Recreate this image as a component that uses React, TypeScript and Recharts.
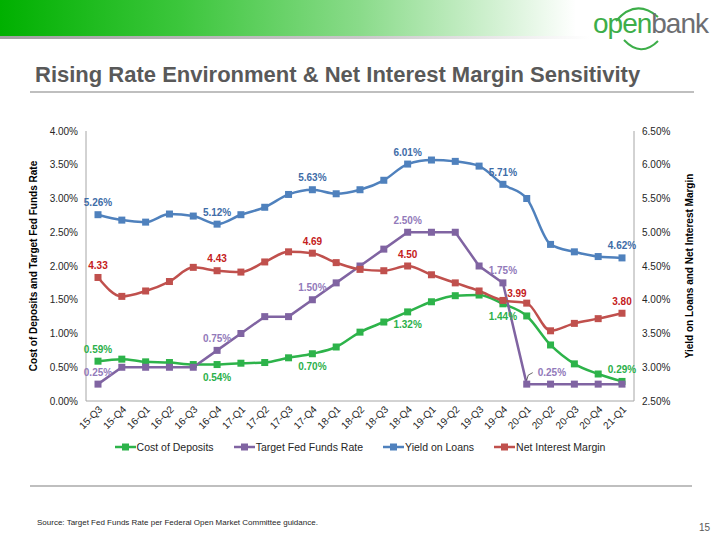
import React from 'react';
import { LineChart, Line, XAxis, YAxis, Legend, LabelList } from 'recharts';

const quarters = ['15-Q3','15-Q4','16-Q1','16-Q2','16-Q3','16-Q4','17-Q1','17-Q2','17-Q3','17-Q4','18-Q1','18-Q2','18-Q3','18-Q4','19-Q1','19-Q2','19-Q3','19-Q4','20-Q1','20-Q2','20-Q3','20-Q4','21-Q1'];
const costOfDeposits = [0.59,0.62,0.58,0.57,0.54,0.54,0.56,0.57,0.64,0.70,0.80,1.02,1.17,1.32,1.47,1.56,1.57,1.44,1.26,0.83,0.55,0.40,0.29];
const targetFedFundsRate = [0.25,0.50,0.50,0.50,0.50,0.75,1.00,1.25,1.25,1.50,1.75,2.00,2.25,2.50,2.50,2.50,2.00,1.75,0.25,0.25,0.25,0.25,0.25];
const yieldOnLoans = [5.26,5.18,5.15,5.27,5.24,5.12,5.26,5.37,5.56,5.63,5.57,5.63,5.77,6.01,6.07,6.05,5.98,5.71,5.50,4.82,4.71,4.64,4.62];
const netInterestMargin = [4.33,4.05,4.13,4.27,4.48,4.43,4.41,4.56,4.71,4.69,4.55,4.45,4.43,4.50,4.37,4.25,4.13,3.99,3.95,3.54,3.65,3.72,3.80];
const leftTicks = [0,0.5,1,1.5,2,2.5,3,3.5,4];
const rightTicks = [2.5,3,3.5,4,4.5,5,5.5,6,6.5];

const data = quarters.map((q, i) => ({
  q,
  deposits: costOfDeposits[i],
  fed: targetFedFundsRate[i],
  yieldL: yieldOnLoans[i],
  nim: netInterestMargin[i],
}));

const FONT = '"Liberation Sans", Arial, Helvetica, sans-serif';

type Place = 'top' | 'bottom' | 'right' | 'leader';
type S = { key: string; name: string; color: string; labelColor: string; axis: string; pct: boolean; type: 'linear' | 'monotone'; labels: Record<number, Place> };

const series: S[] = [
  { key: 'deposits', name: 'Cost of Deposits', color: '#2DB34A', labelColor: '#2BB04A', axis: 'left', pct: true, type: 'monotone', labels: { 0: 'top', 5: 'bottom', 9: 'bottom', 13: 'bottom', 17: 'bottom', 22: 'top' } },
  { key: 'fed', name: 'Target Fed Funds Rate', color: '#8064A2', labelColor: '#927ABA', axis: 'left', pct: true, type: 'linear', labels: { 0: 'top', 5: 'top', 9: 'top', 13: 'top', 17: 'top', 18: 'leader' } },
  { key: 'yieldL', name: 'Yield on Loans', color: '#4F81BD', labelColor: '#3E6CA7', axis: 'right', pct: true, type: 'monotone', labels: { 0: 'top', 5: 'top', 9: 'top', 13: 'top', 17: 'top', 22: 'top' } },
  { key: 'nim', name: 'Net Interest Margin', color: '#C0504D', labelColor: '#C42020', axis: 'right', pct: false, type: 'monotone', labels: { 0: 'top', 5: 'top', 9: 'top', 13: 'top', 17: 'right', 22: 'top' } },
];

const makeLabel = (s: S) => (props: any) => {
  const idx = props.index;
  const place = s.labels[idx];
  if (!place) return null;
  const vb = props.viewBox || {};
  const x = vb.x ?? props.x;
  const y = vb.y ?? props.y;
  const v = Number(props.value);
  const txt = v.toFixed(2) + (s.pct ? '%' : '');
  const common = { fill: s.labelColor, fontSize: 10, fontWeight: 700, fontFamily: FONT, dominantBaseline: 'central' as const };
  if (place === 'top') return <text key={`l-${idx}`} x={x} y={y - 12} textAnchor="middle" {...common}>{txt}</text>;
  if (place === 'bottom') return <text key={`l-${idx}`} x={x} y={y + 13} textAnchor="middle" {...common}>{txt}</text>;
  if (place === 'right') return <text key={`l-${idx}`} x={x + 14} y={y - 7} textAnchor="middle" {...common}>{txt}</text>;
  return (
    <g key={`l-${idx}`}>
      <path d={`M${x},${y - 4} L${x + 1.5},${y - 9} L${x + 6},${y - 11.5}`} stroke="#404040" strokeWidth={0.8} fill="none" />
      <text x={x + 11} y={y - 12} textAnchor="start" {...common}>{txt}</text>
    </g>
  );
};

const makeDot = (color: string) => (p: any) => (
  <rect key={`d-${p.index}`} x={p.cx - 3.5} y={p.cy - 3.5} width={7} height={7} fill={color} />
);

const XTick = (p: any) => (
  <g transform={`translate(${p.x},${p.y})`}>
    <text x={0} y={0} transform="translate(5,9) rotate(-45)" textAnchor="end" fontSize={10} fontFamily={FONT} fill="#262626">{p.payload.value}</text>
  </g>
);

const LeftTitle = (p: any) => {
  const vb = p.viewBox;
  const cx = vb.x + 7;
  const cy = vb.y + vb.height / 2;
  return <text x={cx} y={cy} transform={`rotate(-90,${cx},${cy})`} textAnchor="middle" dominantBaseline="central" fontSize={10} fontWeight={700} fontFamily={FONT} fill="#000">Cost of Deposits and Target Fed Funds Rate</text>;
};
const RightTitle = (p: any) => {
  const vb = p.viewBox;
  const cx = vb.x + 55;
  const cy = vb.y + vb.height / 2;
  return <text x={cx} y={cy} transform={`rotate(-90,${cx},${cy})`} textAnchor="middle" dominantBaseline="central" fontSize={10} fontWeight={700} fontFamily={FONT} fill="#000">Yield on Loans and Net Interest Margin</text>;
};

const LegendContent = () => (
  <div style={{ display: 'flex', justifyContent: 'center', alignItems: 'center', height: 20, fontFamily: FONT, fontSize: 10.5, color: '#262626' }}>
    {series.map((s, i) => (
      <div key={s.key} style={{ display: 'flex', alignItems: 'center', marginLeft: i === 0 ? 0 : 20 }}>
        <svg width={21} height={10} style={{ display: 'block' }}>
          <line x1={0} y1={5} x2={21} y2={5} stroke={s.color} strokeWidth={2.5} />
          <rect x={7} y={1.5} width={7} height={7} fill={s.color} />
        </svg>
        <span style={{ marginLeft: 1 }}>{s.name}</span>
      </div>
    ))}
  </div>
);

const Decor = () => (
  <svg width={720} height={540} style={{ position: 'absolute', left: 0, top: 0 }}>
    <defs>
      <linearGradient id="banner" x1="0" y1="0" x2="1" y2="0">
        <stop offset="0" stopColor="#00B000" />
        <stop offset="0.25" stopColor="#3CC63C" />
        <stop offset="0.5" stopColor="#8ADB8A" />
        <stop offset="0.68" stopColor="#CFF0CF" />
        <stop offset="0.8" stopColor="#FFFFFF" />
      </linearGradient>
      <linearGradient id="shadow" x1="0" y1="0" x2="1" y2="0">
        <stop offset="0" stopColor="#A0A0A0" />
        <stop offset="0.5" stopColor="#C8C8C8" />
        <stop offset="0.82" stopColor="#FFFFFF" />
      </linearGradient>
    </defs>
    <rect x={0} y={0} width={720} height={36} fill="url(#banner)" />
    <rect x={0} y={36} width={720} height={3} fill="url(#shadow)" />
    <g fontFamily={FONT}>
      <path d="M616,21 Q636,-2 658,17" stroke="#3DAE49" strokeWidth={2} fill="none" />
      <path d="M624,40 Q641,58 658,41" stroke="#3DAE49" strokeWidth={2} fill="none" />
      <text x={593} y={33} fontSize={28} letterSpacing={-1} fontWeight={400}>
        <tspan fill="#3DAE49">open</tspan><tspan fill="#6D6E71">bank</tspan>
      </text>
    </g>
    <text x={35} y={82} fontFamily={FONT} fontSize={22} fontWeight={700} fill="#595959">Rising Rate Environment &amp; Net Interest Margin Sensitivity</text>
    <line x1={30} y1={92} x2={694} y2={92} stroke="#BFBFBF" strokeWidth={2} />
    <line x1={30} y1={486} x2={692} y2={486} stroke="#BFBFBF" strokeWidth={2} />
    <text x={37} y={525} fontFamily={FONT} fontSize={8} fill="#262626">Source: Target Fed Funds Rate per Federal Open Market Committee guidance.</text>
    <text x={710} y={531} fontFamily={FONT} fontSize={10} fill="#595959" textAnchor="end">15</text>
  </svg>
);

export default function App() {
  return (
    <div style={{ position: 'absolute', left: 0, top: 0, width: 720, height: 540, background: '#fff', overflow: 'hidden' }}>
      <Decor />
      <div style={{ position: 'absolute', left: 0, top: 0 }}>
        <LineChart width={720} height={540} data={data} margin={{ top: 131, right: 26, left: 26, bottom: 83 }}>
          <XAxis dataKey="q" height={36} padding={{ left: 12, right: 12 }} tickLine={false} tickSize={0} tickMargin={0} axisLine={{ stroke: '#A6A6A6' }} tick={<XTick />} interval={0} />
          <YAxis yAxisId="left" orientation="left" width={60} domain={[0, 4]} ticks={leftTicks} tickFormatter={(v: number) => v.toFixed(2) + '%'} tickLine={false} axisLine={{ stroke: '#A6A6A6' }} tick={{ fontSize: 10, fontFamily: FONT, fill: '#262626' }} label={<LeftTitle />} />
          <YAxis yAxisId="right" orientation="right" width={60} domain={[2.5, 6.5]} ticks={rightTicks} tickFormatter={(v: number) => v.toFixed(2) + '%'} tickLine={false} axisLine={{ stroke: '#A6A6A6' }} tick={{ fontSize: 10, fontFamily: FONT, fill: '#262626', textAnchor: 'start' }} label={<RightTitle />} />
          <Legend verticalAlign="bottom" content={<LegendContent />} />
          {series.map((s) => (
            <Line key={s.key} yAxisId={s.axis} dataKey={s.key} name={s.name} type={s.type} stroke={s.color} strokeWidth={2.5} dot={makeDot(s.color)} activeDot={false} isAnimationActive={false}>
              <LabelList dataKey={s.key} content={makeLabel(s)} />
            </Line>
          ))}
        </LineChart>
      </div>
    </div>
  );
}
